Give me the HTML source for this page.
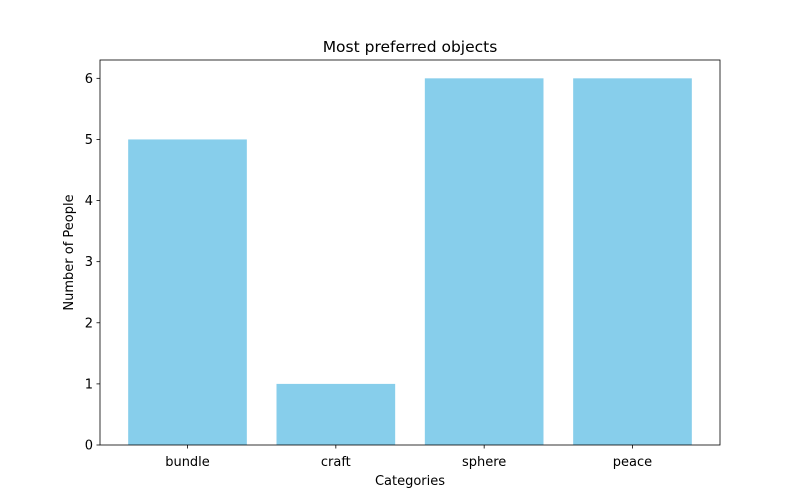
<!DOCTYPE html>
<html><head><meta charset="utf-8"><style>
body{margin:0;background:#fff;}
svg{display:block;font-family:"DejaVu Sans","Liberation Sans",sans-serif;}
</style></head><body>
<svg id="chart" width="800" height="500"></svg>
<script>
const categories = ["bundle", "craft", "sphere", "peace"];
const values = [5, 1, 6, 6];
const yTicks = [0, 1, 2, 3, 4, 5, 6];

const NS = "http://www.w3.org/2000/svg";
const svg = document.getElementById("chart");
const L = 100, R = 720, T = 60, B = 445;
const xMin = -0.59, xMax = categories.length - 1 + 0.59;
const yMax = Math.max(...values) * 1.05;
const xs = v => L + (v - xMin) / (xMax - xMin) * (R - L);
const ys = v => B - v / yMax * (B - T);
function mk(tag, attrs, text) {
  const e = document.createElementNS(NS, tag);
  for (const k in attrs) e.setAttribute(k, attrs[k]);
  if (text !== undefined) e.textContent = text;
  svg.appendChild(e);
  return e;
}
categories.forEach((c, i) => {
  const b = mk("rect", {x: xs(i - 0.4), y: ys(values[i]), width: xs(i + 0.4) - xs(i - 0.4), height: B - ys(values[i]), fill: "#87ceeb"});
  
  
  const t = mk("line", {x1: xs(i), x2: xs(i), y1: B, y2: B + 3.5, stroke: "#000", "stroke-width": 0.8});
  
  
  const l = mk("text", {x: xs(i), y: B + 21, "text-anchor": "middle", "font-size": 13}, c);
  
  
});
yTicks.forEach(v => {
  const t = mk("line", {x1: L - 3.5, x2: L, y1: ys(v), y2: ys(v), stroke: "#000", "stroke-width": 0.8});
  
  
  const l = mk("text", {x: L - 7, y: ys(v) + 4.5, "text-anchor": "end", "font-size": 13}, v);
  
  
});
const frame = mk("rect", {x: L, y: T, width: R - L, height: B - T, fill: "none", stroke: "#000", "stroke-width": 0.8});


const title = mk("text", {x: (L + R) / 2, y: 52, "text-anchor": "middle", "font-size": 15.5}, "Most preferred objects");


const xt = mk("text", {x: (L + R) / 2, y: 485, "text-anchor": "middle", "font-size": 13}, "Categories");


const yt = mk("text", {x: 73, y: (T + B) / 2, "text-anchor": "middle", "font-size": 13, transform: "rotate(-90 73 " + (T + B) / 2 + ")"}, "Number of People");


</script>
</body></html>
